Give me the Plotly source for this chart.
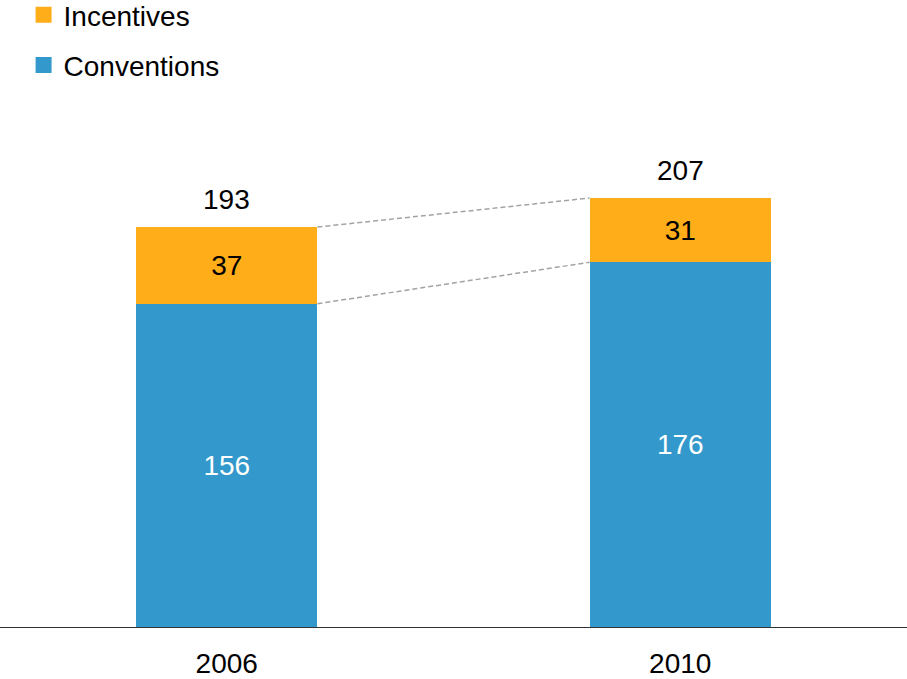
import plotly.graph_objects as go

years = ["2006", "2010"]
conventions = [156, 176]
incentives = [37, 31]
totals = [193, 207]

BLUE = "#3399CC"
ORANGE = "#FFAE1A"
FONT = "Liberation Sans, Arial, sans-serif"
FS = 28

fig = go.Figure()
fig.add_trace(go.Bar(x=years, y=conventions, name="Conventions", marker_color=BLUE,
                     marker_line_width=0,
                     text=[str(v) for v in conventions], textposition="inside",
                     insidetextanchor="middle", textangle=0,
                     textfont=dict(color="white", size=FS, family=FONT),
                     width=0.4, showlegend=False, hoverinfo="skip"))
fig.add_trace(go.Bar(x=years, y=incentives, name="Incentives", marker_color=ORANGE,
                     marker_line_width=0,
                     text=[str(v) for v in incentives], textposition="inside",
                     insidetextanchor="middle", textangle=0,
                     textfont=dict(color="black", size=FS, family=FONT),
                     width=0.4, showlegend=False, hoverinfo="skip"))

# legend entries
fig.add_trace(go.Scatter(x=[None], y=[None], mode="markers", name="Incentives",
                         marker=dict(symbol="square", size=16, color=ORANGE),
                         legendgroup="a", legendrank=1))
fig.add_trace(go.Scatter(x=[None], y=[None], mode="markers", name="Conventions",
                         marker=dict(symbol="square", size=16, color=BLUE),
                         legendgroup="b", legendrank=2))

for i, t in enumerate(totals):
    fig.add_annotation(x=i, y=t, xref="x", yref="y", text=str(t), showarrow=False,
                       yshift=28, yanchor="middle",
                       font=dict(size=FS, color="black", family=FONT))

# connector dashed lines
half = 0.2
for lvl in [conventions, totals]:
    fig.add_shape(type="line", xref="x", yref="y",
                  x0=0 + half, x1=1 - half, y0=lvl[0], y1=lvl[1],
                  line=dict(color="#A3A3A3", width=1.5, dash="5px,3px"))

fig.update_layout(
    barmode="stack",
    width=907, height=679,
    margin=dict(l=0, r=0, t=100, b=52, autoexpand=False),
    plot_bgcolor="white", paper_bgcolor="white",
    font=dict(family=FONT, size=FS, color="black"),
    showlegend=True,
    legend=dict(x=0.026, y=1.2087, xref="paper", yref="paper", xanchor="left", yanchor="top",
                font=dict(size=FS, family=FONT, color="black"),
                tracegroupgap=11, traceorder="grouped", bgcolor="rgba(0,0,0,0)"),
    xaxis=dict(type="category", range=[-0.5, 1.5], showline=True, linecolor="#333333",
               linewidth=1, showgrid=False, ticks="", tickfont=dict(size=FS, family=FONT),
               ticklabelstandoff=11),
    yaxis=dict(range=[0, 254.3], showticklabels=False, showline=False, zeroline=False,
               showgrid=False, ticks=""),
)

fig.write_html("out.html", config={"displayModeBar": False},
               post_script="document.body.style.margin='0';")
